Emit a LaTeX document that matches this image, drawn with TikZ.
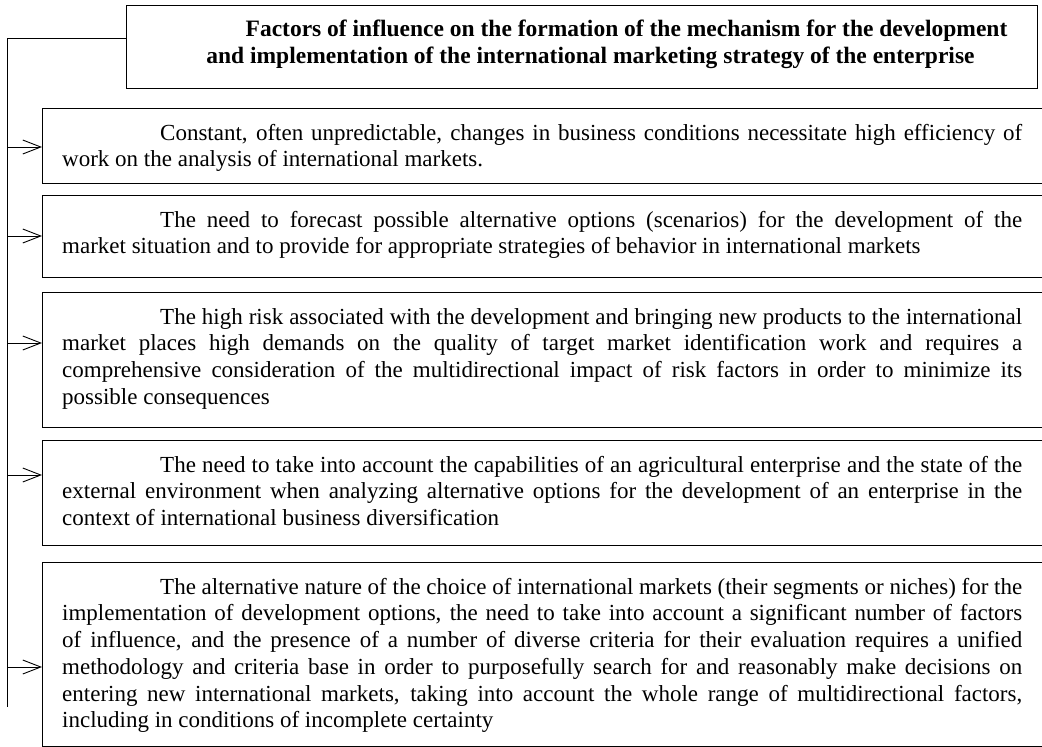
\documentclass[tikz,border=0pt]{standalone}
\usepackage{fontspec}
\setmainfont{Liberation Serif}
\usetikzlibrary{arrows.meta}

\newcommand{\boxtext}[2]{\parbox[c][#1][t]{960pt}{\rule{0pt}{32pt}\hspace*{98pt}#2}}

\begin{document}
\begin{tikzpicture}[x=1pt,y=-1pt,
    factor/.style={anchor=north west,inner xsep=20pt,inner ysep=0pt,
      font=\fontsize{23pt}{26.7pt}\selectfont},
    frame/.style={line width=0.9pt},
    feed/.style={-{Straight Barb[length=18pt,width=14pt]},line width=0.9pt}]
  \useasboundingbox (0,0) rectangle (1042,747);
  % heading
  \node[draw,line width=1pt,anchor=north west,inner sep=0pt,
    font=\fontsize{23.5pt}{26.7pt}\selectfont\bfseries] (title) at (126,5)
    {\parbox[c][83pt][t]{911pt}{\centering\rule{0pt}{31pt}\hspace*{89pt}Factors of influence on the formation of the mechanism for the development\\
     \hspace*{17pt}and implementation of the international marketing strategy of the enterprise}};
  % factors
  \node[factor] (f1) at (42,108) {\boxtext{75pt}{Constant, often unpredictable, changes in business conditions necessitate high efficiency of\linebreak
    work on the analysis of international markets.}};
  \node[factor] (f2) at (42,195) {\boxtext{82pt}{The need to forecast possible alternative options (scenarios) for the development of the\linebreak
    market situation and to provide for appropriate strategies of behavior in international markets}};
  \node[factor] (f3) at (42,292) {\boxtext{135pt}{The high risk associated with the development and bringing new products to the international\linebreak
    market places high demands on the quality of target market identification work and requires a\linebreak
    comprehensive consideration of the multidirectional impact of risk factors in order to minimize its\linebreak
    possible consequences}};
  \node[factor] (f4) at (42,440) {\boxtext{105pt}{The need to take into account the capabilities of an agricultural enterprise and the state of the\linebreak
    external environment when analyzing alternative options for the development of an enterprise in the\linebreak
    context of international business diversification}};
  \node[factor] (f5) at (42,562) {\boxtext{184pt}{The alternative nature of the choice of international markets (their segments or niches) for the\linebreak
    implementation of development options, the need to take into account a significant number of factors\linebreak
    of influence, and the presence of a number of diverse criteria for their evaluation requires a unified\linebreak
    methodology and criteria base in order to purposefully search for and reasonably make decisions on\linebreak
    entering new international markets, taking into account the whole range of multidirectional factors,\linebreak
    including in conditions of incomplete certainty}};
  % frames are cut off by the right edge
  \foreach \f in {f1,f2,f3,f4,f5}
    \draw[frame] (\f.north east) -- (\f.north west) -- (\f.south west) -- (\f.south east);
  % trunk and arrows
  \coordinate (top) at (7.5,38);
  \coordinate (bot) at (7.5,707);
  \draw[line width=0.9pt] (title.west |- top) -- (top) -- (bot);
  \foreach \f/\y in {f1/147,f2/236,f3/343,f4/475,f5/667}{
    \coordinate (j\f) at (7.5,\y);
    \draw[feed] (j\f) -- (j\f -| \f.west);
  }
\end{tikzpicture}
\end{document}
